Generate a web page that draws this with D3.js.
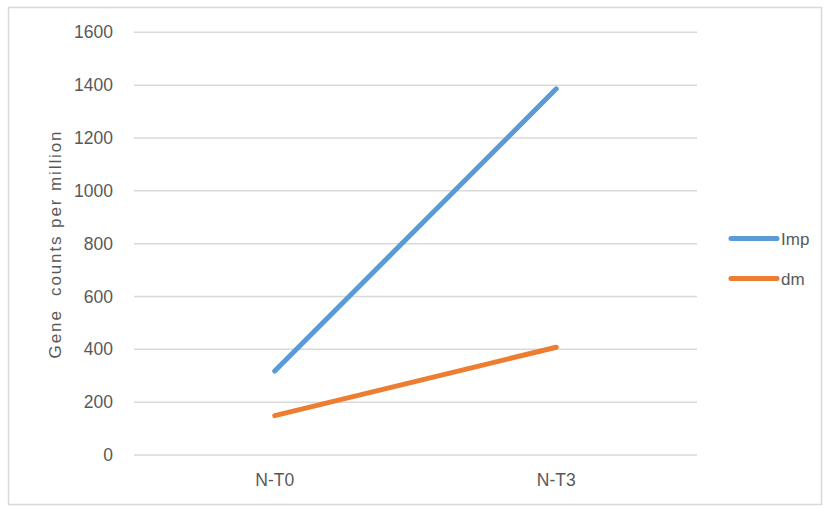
<!DOCTYPE html>
<html><head><meta charset="utf-8">
<script src="https://cdn.jsdelivr.net/npm/d3@7"></script>
<style>body{margin:0;background:#fff}svg{display:block}text{font-family:"Liberation Sans",Arial,sans-serif;fill:#595959}</style>
</head><body><svg id="c" width="827" height="508"></svg>
<script>
const categories = ["N-T0", "N-T3"];
const seriesNames = ["Imp", "dm"];
const impValues = [318, 1386];
const dmValues = [149, 408];
const yTicks = [0, 200, 400, 600, 800, 1000, 1200, 1400, 1600];
const colors = ["#5B9BD5", "#ED7D31"];

(function () {
const svg = d3.select("#c");
svg.append("rect").attr("x", 8.5).attr("y", 7.5).attr("width", 813).attr("height", 497)
  .attr("fill", "#fff").attr("stroke", "#d9d9d9").attr("stroke-width", 1.5);

const pL = 134, pR = 697, pT = 32.3, pB = 455;
const x = d3.scaleBand().domain(categories).range([pL, pR]);
const y = d3.scaleLinear().domain([0, 1600]).range([pB, pT]);

const grid = svg.append("g");
grid.selectAll("line").data(yTicks).join("line")
  .attr("x1", pL).attr("x2", pR)
  .attr("y1", d => y(d)).attr("y2", d => y(d))
  .attr("stroke", "#d9d9d9").attr("stroke-width", 1.5);

const yAxis = svg.append("g").attr("transform", `translate(${pL},0)`)
  .call(d3.axisLeft(y).tickValues(yTicks).tickFormat(d3.format("d")).tickSize(0).tickPadding(21));
yAxis.select(".domain").remove();
yAxis.selectAll("text").style("font-size", "17.5px").style("fill", "#595959").attr("font-family", "Liberation Sans, Arial, sans-serif");

const xAxis = svg.append("g").attr("transform", `translate(0,${pB})`)
  .call(d3.axisBottom(x).tickSize(0).tickPadding(19));
xAxis.select(".domain").remove();
xAxis.selectAll("text").style("font-size", "17.5px").style("fill", "#595959").attr("font-family", "Liberation Sans, Arial, sans-serif");

svg.append("text").attr("transform", "translate(61,244) rotate(-90)")
  .attr("text-anchor", "middle").style("font-size", "17px").style("letter-spacing", "1.9px")
  .style("white-space", "pre").text("Gene  counts per million");

const series = [impValues, dmValues];
const line = d3.line().x((d, i) => x(categories[i]) + x.bandwidth() / 2).y(d => y(d));
series.forEach((vals, k) => {
  svg.append("path").datum(vals).attr("d", line).attr("fill", "none")
    .attr("stroke", colors[k]).attr("stroke-width", 5).attr("stroke-linecap", "round");
});

const leg = svg.append("g");
seriesNames.forEach((n, k) => {
  const ly = 238.5 + k * 40;
  leg.append("line").attr("x1", 731).attr("x2", 777).attr("y1", ly).attr("y2", ly)
    .attr("stroke", colors[k]).attr("stroke-width", 5).attr("stroke-linecap", "round");
  leg.append("text").attr("x", 781).attr("y", ly + 6.5).style("font-size", "17px").text(n);
});
})();
</script></body></html>
